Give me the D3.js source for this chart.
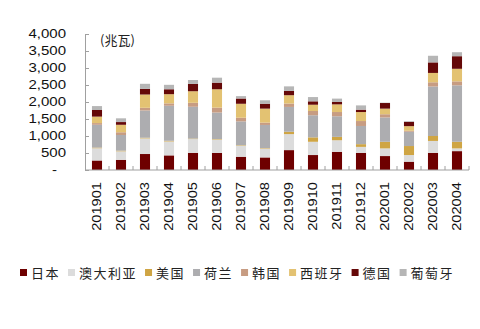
<!DOCTYPE html>
<html><head><meta charset="utf-8">
<script src="https://cdn.jsdelivr.net/npm/d3@7"></script>
<style>
body{margin:0;background:#fff;}
svg{display:block;}
</style></head>
<body>
<svg id="chart" width="480" height="329"></svg>
<script>
const categories = ["201901","201902","201903","201904","201905","201906","201907","201908","201909","201910","201911","201912","202001","202002","202003","202004"];
const seriesNames = ["日本","澳大利亚","美国","荷兰","韩国","西班牙","德国","葡萄牙"];
const japan     = [280, 300, 470, 430, 505, 500, 390, 370, 585, 440, 535, 505, 410, 245, 505, 555];
const australia = [360, 250, 460, 410, 405, 395, 325, 260, 470, 390, 340, 175, 225, 195, 350, 80];
const usa       = [20, 20, 20, 20, 15, 15, 15, 15, 70, 130, 100, 80, 195, 265, 145, 195];
const netherlands=[670, 460, 800, 1030, 935, 780, 700, 680, 730, 650, 605, 535, 715, 420, 1455, 1660];
const korea     = [50, 80, 80, 70, 117, 145, 108, 70, 100, 125, 125, 145, 95, 30, 125, 117];
const spain     = [190, 220, 390, 270, 340, 540, 410, 410, 245, 185, 225, 265, 165, 135, 275, 370];
const germany   = [195, 80, 165, 145, 215, 195, 155, 145, 125, 100, 70, 70, 165, 125, 310, 370];
const portugal  = [115, 110, 150, 130, 115, 145, 70, 100, 135, 125, 100, 125, 10, 20, 195, 117];
const yTicks = [0, 500, 1000, 1500, 2000, 2500, 3000, 3500, 4000];
const unitLabel = "(兆瓦)";

const colors = ["#6e0000","#dcdcdc","#cfa544","#adadb0","#c79c82","#e3c272","#650808","#b6b6b6"];
const seriesValues = [japan, australia, usa, netherlands, korea, spain, germany, portugal];

const rows = categories.map((c,i)=>{
  const r = {cat:c};
  seriesNames.forEach((s,j)=>{ r[s] = seriesValues[j][i]; });
  return r;
});

const svg = d3.select("#chart");
const x0 = 85, x1 = 469, yTop = 34, yBot = 170;
const x = d3.scaleBand().domain(categories).range([x0, x1]).paddingInner(0.58).paddingOuter(0.29);
const y = d3.scaleLinear().domain([0, 4000]).range([yBot, yTop]);

const stack = d3.stack().keys(seriesNames)(rows);

svg.append("g").selectAll("g").data(stack).join("g")
  .attr("fill",(d,i)=>colors[i])
  .selectAll("rect").data(d=>d).join("rect")
  .attr("x", d=>x(d.data.cat))
  .attr("width", x.bandwidth())
  .attr("y", d=>y(d[1]))
  .attr("height", d=>Math.max(0, y(d[0]) - y(d[1])));

// Y axis
const axisColor = "#a0a0a0";
const yAxis = svg.append("g").attr("transform",`translate(${x0},0)`)
  .call(d3.axisRight(y).tickValues(yTicks).tickSize(4).tickFormat(""));
yAxis.select(".domain").attr("stroke",axisColor);
yAxis.selectAll(".tick line").attr("stroke",axisColor);

const fmt = d3.format(",");
svg.append("g").selectAll("text").data(yTicks).join("text")
  .attr("transform", d=>`translate(${d===0?57:66},${y(d)}) scale(1.25,1)`)
  .attr("text-anchor","end")
  .attr("dy","0.36em")
  .attr("font-family","'Liberation Sans', Arial, sans-serif")
  .attr("font-size",12)
  .attr("fill","#111")
  .text(d=> d===0 ? "-" : fmt(d));

// X axis
const xAxisG = svg.append("g").attr("transform",`translate(0,${yBot})`);
xAxisG.append("line").attr("x1",x0).attr("x2",x1).attr("y1",0).attr("y2",0).attr("stroke",axisColor);
const step = x.step();
const boundaries = d3.range(categories.length+1).map(i=> x0 + i*step);
xAxisG.selectAll("line.tk").data(boundaries.slice(1)).join("line")
  .attr("class","tk")
  .attr("x1",d=>d).attr("x2",d=>d).attr("y1",0).attr("y2",-4)
  .attr("stroke",axisColor);

svg.append("g").selectAll("text").data(categories).join("text")
  .attr("transform", d=>`translate(${x(d)+x.bandwidth()/2},182) rotate(-90) scale(1.22,1)`)
  .attr("text-anchor","end")
  .attr("dy","0.36em")
  .attr("font-family","'Liberation Sans', Arial, sans-serif")
  .attr("font-size",12)
  .attr("fill","#111")
  .text(d=>d);

// Unit label
svg.append("text").attr("x",100).attr("y",45)
  .attr("font-family","'Noto Sans CJK SC', sans-serif")
  .attr("font-size",13).attr("fill","#222")
  .text(unitLabel);

// Legend
const leg = svg.append("g");
let lx = 20;
seriesNames.forEach((s,i)=>{
  const g = leg.append("g");
  g.append("rect").attr("x",lx).attr("y",269).attr("width",7).attr("height",7).attr("fill",colors[i]);
  const t = g.append("text").attr("x",lx+11).attr("y",273).attr("dy","0.36em")
    .attr("font-family","'Noto Sans CJK SC', sans-serif")
    .attr("font-size",13).attr("letter-spacing","1.5px").attr("fill","#222")
    .text(s);
  lx += 11 + t.node().getComputedTextLength() + 8;
});
</script>
</body></html>
